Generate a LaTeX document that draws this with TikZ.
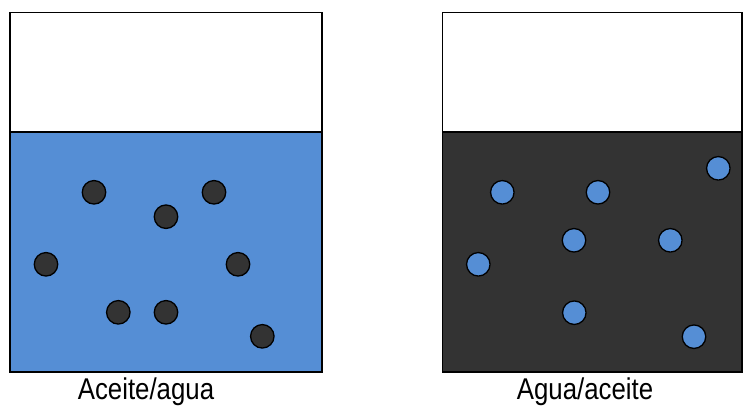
\documentclass[tikz,border=0pt]{standalone}
\usepackage{fontspec}
\setmainfont[FakeStretch=0.86]{Liberation Sans}
\definecolor{waterblue}{HTML}{558ED5}
\definecolor{oildark}{HTML}{333333}
\tikzset{
  vessel/.style={draw=black, line width=1.5pt},
  drop/.style={circle, draw=black, line width=1.3pt, inner sep=0pt, minimum size=23.5pt},
  darkdrop/.style={drop, fill=oildark},
  bluedrop/.style={drop, fill=waterblue},
  caption/.style={anchor=base, inner sep=0pt, font=\fontsize{30}{30}\selectfont}
}
\begin{document}
\begin{tikzpicture}[x=1pt, y=-1pt]
  \useasboundingbox (0,0) rectangle (744,405);

  % left vessel: water with oil droplets
  \fill[waterblue] (10,132) rectangle (322,372);
  \draw[vessel] (10,12.5) rectangle (322,372);
  \draw[vessel] (10,132) -- (322,132);
  \foreach \n/\x/\y in {a/94/192.3, b/166/216.7, c/214/192.3, d/46/264.3,
                        e/238/264.3, f/118.3/312.3, g/166/312.3, h/262.3/336.3}
    \node[darkdrop] (L\n) at (\x,\y) {};
  \node[caption] (capL) at (146,399.5) {Aceite/agua};

  % right vessel: oil with water droplets
  \fill[oildark] (442.7,132) rectangle (742,372);
  \draw[vessel] (442.7,12.5) rectangle (742,372);
  \draw[vessel] (442.7,132) -- (742,132);
  \foreach \n/\x/\y in {a/502.3/192.3, b/598/192.3, c/718.3/168.3, d/574/240.3,
                        e/670.3/240.3, f/478.3/264.3, g/574.3/312.7, h/694/336.7}
    \node[bluedrop] (R\n) at (\x,\y) {};
  \node[caption] (capR) at (585,399.5) {Agua/aceite};
\end{tikzpicture}
\end{document}
